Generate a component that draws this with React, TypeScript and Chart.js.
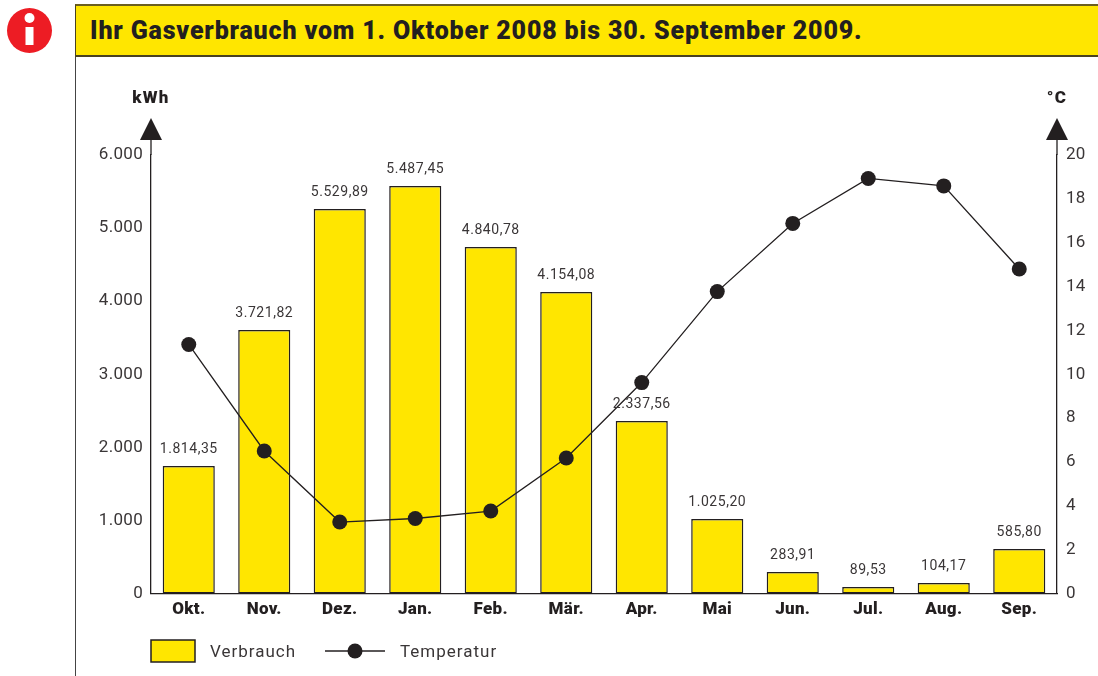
import React, { useEffect, useRef } from "react";
import { Chart, registerables } from "chart.js";

Chart.register(...registerables);

const months = ["Okt.", "Nov.", "Dez.", "Jan.", "Feb.", "Mär.", "Apr.", "Mai", "Jun.", "Jul.", "Aug.", "Sep."];
const verbrauch = [1745, 3606, 5261, 5576, 4741, 4125, 2360, 1019, 294, 89, 144, 609];
const verbrauchLabels = ["1.814,35", "3.721,82", "5.529,89", "5.487,45", "4.840,78", "4.154,08", "2.337,56", "1.025,20", "283,91", "89,53", "104,17", "585,80"];
const temperatur = [11.36, 6.5, 3.26, 3.42, 3.76, 6.18, 9.62, 13.77, 16.88, 18.93, 18.59, 14.8];

const INK = "#231f20";
const YELLOW = "#ffe600";
const FONT = "Roboto, sans-serif";

const decorations = {
  id: "decorations",
  beforeDraw(chart: any) {
    chart.ctx.letterSpacing = "0.3px";
  },
  afterDatasetsDraw(chart: any) {
    const { ctx, scales, data } = chart;
    const meta = chart.getDatasetMeta(0);
    ctx.save();
    ctx.fillStyle = "#3a3637";
    ctx.font = `14px ${FONT}`;
    ctx.letterSpacing = "0.55px";
    ctx.textAlign = "center";
    ctx.textBaseline = "alphabetic";
    meta.data.forEach((bar: any, i: number) => {
      ctx.fillText(verbrauchLabels[i], bar.x, bar.y - 13);
    });

    const top = scales.y.top;
    ctx.letterSpacing = "1.2px";
    [
      { x: scales.y.right, label: "kWh" },
      { x: scales.y1.left, label: "°C" },
    ].forEach(({ x, label }) => {
      ctx.strokeStyle = INK;
      ctx.lineWidth = 1.3;
      ctx.beginPath();
      ctx.moveTo(x, top);
      ctx.lineTo(x, top - 17);
      ctx.stroke();
      ctx.fillStyle = INK;
      ctx.beginPath();
      ctx.moveTo(x, top - 37);
      ctx.lineTo(x + 11, top - 15);
      ctx.lineTo(x - 11, top - 15);
      ctx.closePath();
      ctx.fill();
      ctx.font = `900 17px ${FONT}`;
      ctx.fillText(label, x, top - 52);
    });

    const legendY = 651;
    const barDs = data.datasets[0];
    const lineDs = data.datasets[1];
    ctx.fillStyle = YELLOW;
    ctx.strokeStyle = INK;
    ctx.lineWidth = 1.5;
    ctx.fillRect(151, legendY - 11, 44, 22);
    ctx.strokeRect(151, legendY - 11, 44, 22);
    ctx.lineWidth = 1.3;
    ctx.beginPath();
    ctx.moveTo(325, legendY);
    ctx.lineTo(385, legendY);
    ctx.stroke();
    ctx.fillStyle = INK;
    ctx.beginPath();
    ctx.arc(355, legendY, 7.5, 0, Math.PI * 2);
    ctx.fill();
    ctx.fillStyle = "#3a3637";
    ctx.font = `17px ${FONT}`;
    ctx.letterSpacing = "1px";
    ctx.textAlign = "left";
    ctx.textBaseline = "middle";
    ctx.fillText(barDs.label, 210, legendY + 2);
    ctx.fillText(lineDs.label, 400, legendY + 2);
    ctx.restore();
  },
};

export default function App() {
  const ref = useRef<HTMLCanvasElement>(null);
  useEffect(() => {
    const chart = new Chart(ref.current!, {
      type: "bar",
      data: {
        labels: months,
        datasets: [
          {
            type: "bar",
            label: "Verbrauch",
            data: verbrauch,
            yAxisID: "y",
            backgroundColor: YELLOW,
            borderColor: INK,
            borderWidth: 1.5,
            borderSkipped: false,
            categoryPercentage: 1,
            barPercentage: 0.69,
            order: 2,
          },
          {
            type: "line",
            label: "Temperatur",
            data: temperatur,
            yAxisID: "y1",
            borderColor: INK,
            borderWidth: 1.3,
            backgroundColor: INK,
            pointRadius: 7.5,
            pointBorderWidth: 0,
            tension: 0,
            order: 1,
          },
        ],
      } as any,
      options: {
        animation: false,
        responsive: false,
        layout: { padding: { top: 155, left: 0, right: 0, bottom: 0 } },
        plugins: { legend: { display: false }, title: { display: false }, tooltip: { enabled: false } },
        scales: {
          x: {
            grid: { display: false, drawTicks: false },
            border: { display: true, color: INK, width: 1.3 },
            ticks: { color: INK, font: { family: FONT, size: 17, weight: "900" }, padding: 6, autoSkip: false, maxRotation: 0 },
            afterFit: (s: any) => { s.height = 82.5; },
          },
          y: {
            position: "left",
            min: 0,
            max: 6000,
            grid: { display: false, drawTicks: false },
            border: { display: true, color: INK, width: 1.3 },
            ticks: {
              stepSize: 1000,
              color: "#3a3637",
              padding: 8,
              font: { family: FONT, size: 17 },
              callback: (v: any) => Number(v).toLocaleString("de-DE"),
            },
            afterFit: (s: any) => { s.width = 151; },
          },
          y1: {
            position: "right",
            min: 0,
            max: 20,
            grid: { display: false, drawTicks: false },
            border: { display: true, color: INK, width: 1.3 },
            ticks: { stepSize: 2, color: "#3a3637", padding: 9, font: { family: FONT, size: 17 } },
            afterFit: (s: any) => { s.width = 41; },
          },
        },
      } as any,
      plugins: [decorations],
    });
    return () => chart.destroy();
  }, []);

  return (
    <div style={{ position: "absolute", left: 0, top: 0, width: 1098, height: 676, background: "#fff", overflow: "hidden" }}>
      <canvas ref={ref} width={1098} height={676} style={{ position: "absolute", left: 0, top: 0 }} />
      <div style={{ position: "absolute", left: 75, top: 5, width: 1.3, height: 671, background: "#444" }} />
      <div
        style={{
          position: "absolute", left: 75, top: 4, width: 1023, height: 53, boxSizing: "border-box",
          background: YELLOW, borderTop: "2px solid #6b5f20", borderBottom: "2px solid #4a4220", borderLeft: "1.3px solid #4a4220",
          color: INK, fontFamily: FONT, fontWeight: 900, fontSize: 25, letterSpacing: "0.83px", lineHeight: "49px", paddingLeft: 14, whiteSpace: "nowrap",
        }}
      >
        Ihr Gasverbrauch vom 1. Oktober 2008 bis 30. September 2009.
      </div>
      <svg width={60} height={60} style={{ position: "absolute", left: 0, top: 0 }}>
        <circle cx={29.5} cy={30.5} r={22.5} fill="#ed1c24" />
        <circle cx={29.5} cy={18} r={5} fill="#fff" />
        <rect x={25.5} y={27} width={8} height={18} fill="#fff" />
      </svg>
    </div>
  );
}
